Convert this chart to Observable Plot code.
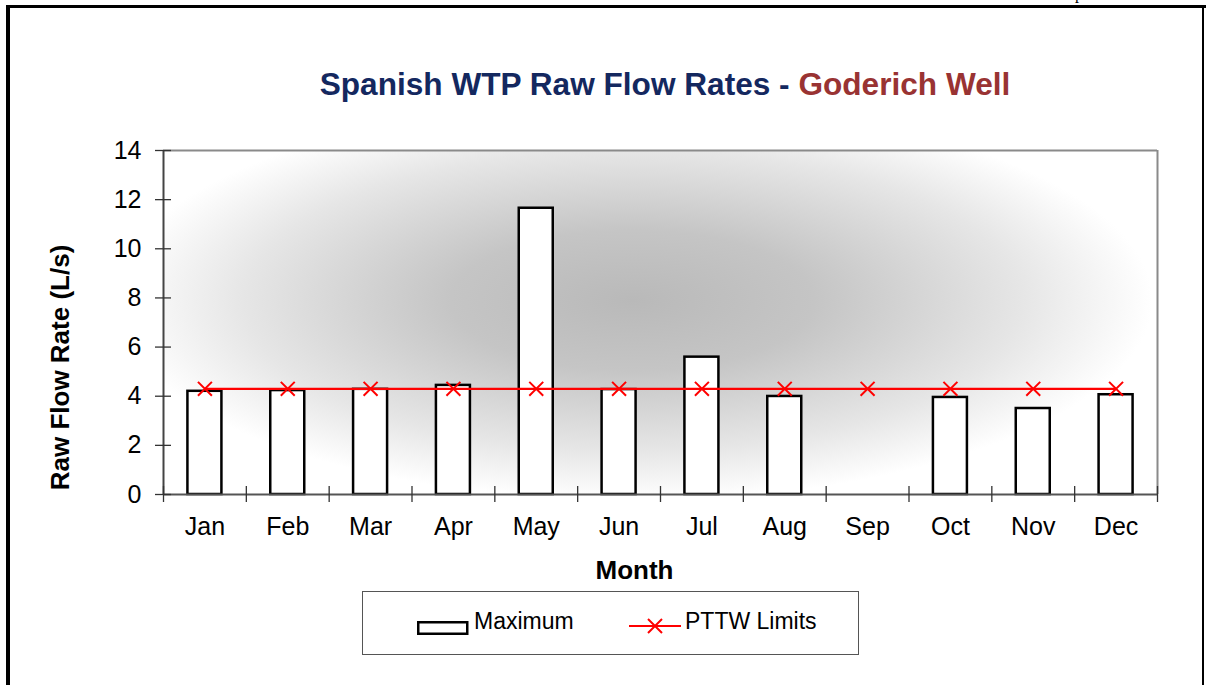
<!DOCTYPE html>
<html><head><meta charset="utf-8">
<script src="https://cdn.jsdelivr.net/npm/d3@7"></script>
<script src="https://cdn.jsdelivr.net/npm/@observablehq/plot@0.6"></script>
<style>
body{margin:0;background:#fff;font-family:"Liberation Sans",Arial,sans-serif;}
#page{position:relative;width:1206px;height:685px;overflow:hidden;background:#fff;}
.bline{position:absolute;background:#000;}
#title{position:absolute;left:665px;top:69px;transform:translateX(-50%);white-space:nowrap;font-size:31.6px;line-height:31px;font-weight:bold;}
#chart{position:absolute;left:0;top:100px;}
#legend{position:absolute;left:362px;top:591px;width:495px;height:62px;border:1px solid #555;background:#fff;}
.lg{position:absolute;white-space:nowrap;font-size:23px;line-height:23px;color:#000;}
#pfrag{position:absolute;left:1075px;top:-15px;font-family:"Liberation Serif",serif;font-size:16px;}
</style></head><body>
<div id="page">
  <div id="pfrag">p</div>
  <div class="bline" style="left:6px;top:5px;width:1200px;height:3px;"></div>
  <div class="bline" style="left:6px;top:5px;width:4px;height:680px;"></div>
  <div class="bline" style="left:1202px;top:5px;width:2px;height:680px;"></div>
  <div id="title"></div>
  <div id="chart"></div>
  <div id="legend"></div>
</div>
<script>
const months = ["Jan","Feb","Mar","Apr","May","Jun","Jul","Aug","Sep","Oct","Nov","Dec"];
const maximum = [4.20, 4.23, 4.28, 4.44, 11.65, 4.27, 5.59, 3.99, null, 3.95, 3.50, 4.06];
const pttwLimits = [4.3, 4.3, 4.3, 4.3, 4.3, 4.3, 4.3, 4.3, 4.3, 4.3, 4.3, 4.3];
const yTicks = [0, 2, 4, 6, 8, 10, 12, 14];
const seriesNames = ["Maximum", "PTTW Limits"];
const titleMain = "Spanish WTP Raw Flow Rates - ";
const titleSite = "Goderich Well";
const xTitle = "Month";
const yTitle = "Raw Flow Rate (L/s)";

const rows = months.map((m, i) => ({month: m, idx: i + 1, max: maximum[i], limit: pttwLimits[i]}));

// title
const t = document.getElementById("title");
const s1 = document.createElement("span"); s1.textContent = titleMain; s1.style.color = "#14285f";
const s2 = document.createElement("span"); s2.textContent = titleSite; s2.style.color = "#993333";
t.append(s1, s2);

const W = 1206, H = 490, mL = 163, mR = 49, mT = 50, mB = 96;
const plotW = W - mL - mR, plotH = H - mT - mB;
const step = plotW / months.length;
const barW = 34;
const inset = (step - barW) / 2;

const chart = Plot.plot({
  width: W, height: H,
  marginLeft: mL, marginRight: mR, marginTop: mT, marginBottom: mB,
  x: {domain: [0.5, months.length + 0.5]},
  y: {domain: [0, 14]},
  style: {background: "transparent", overflow: "visible", fontFamily: "'Liberation Sans', Arial, sans-serif", color: "#000"},
  marks: [
    Plot.frame({fill: "url(#bggrad)", stroke: "none"}),
    Plot.rectY(rows.filter(d => d.max != null), {x1: d => d.idx - 0.5, x2: d => d.idx + 0.5, y1: 0, y2: "max",
      insetLeft: inset, insetRight: inset, fill: "white", stroke: "#000", strokeWidth: 2.5}),
    Plot.ruleY([14], {stroke: "#8a8a8a", strokeWidth: 2}),
    Plot.ruleX([months.length + 0.5], {stroke: "#8a8a8a", strokeWidth: 2}),
    Plot.ruleY([0], {stroke: "#555", strokeWidth: 2}),
    Plot.ruleX([0.5], {stroke: "#444", strokeWidth: 2}),
    Plot.ruleY(yTicks, {insetLeft: -8, insetRight: plotW - 8, stroke: "#333", strokeWidth: 1.3}),
    Plot.ruleX(d3.range(0.5, months.length + 0.6, 1), {insetTop: plotH - 8, insetBottom: -8, stroke: "#333", strokeWidth: 1.3}),
    Plot.axisY(yTicks, {tickSize: 0, tickPadding: 22, fontSize: 25, label: null}),
    Plot.axisX(rows.map(d => d.idx), {tickSize: 0, tickPadding: 23, fontSize: 25, tickFormat: i => months[i - 1], label: null}),
    Plot.line(rows, {x: "idx", y: "limit", stroke: "#ff0000", strokeWidth: 2.2}),
    Plot.dot(rows, {x: "idx", y: "limit", symbol: "times", r: 6.4, stroke: "#ff0000", strokeWidth: 2}),
    Plot.text([xTitle], {frameAnchor: "bottom", lineAnchor: "middle", dy: 76, dx: -26, fontSize: 26, fontWeight: "bold"}),
    Plot.text([yTitle], {frameAnchor: "left", textAnchor: "middle", lineAnchor: "middle", rotate: -90, dx: -103, dy: 45, fontSize: 26, fontWeight: "bold"})
  ]
});

const defs = d3.select(chart).insert("defs", ":first-child");
const g = defs.append("radialGradient").attr("id", "bggrad")
  .attr("gradientUnits", "userSpaceOnUse")
  .attr("cx", 0).attr("cy", 0).attr("r", 1)
  .attr("gradientTransform", "translate(632 200) scale(520 200)");
[[0, "#b9b9b9"], [0.35, "#c5c5c5"], [0.75, "#e6e6e6"], [1, "#ffffff"]].forEach(([o, c]) =>
  g.append("stop").attr("offset", o).attr("stop-color", c));
document.getElementById("chart").appendChild(chart);

// legend
const lg = document.getElementById("legend");
function addAbs(html, left, top) {
  const d = document.createElement("div");
  d.className = "lg"; d.style.left = left + "px"; d.style.top = top + "px";
  d.innerHTML = html; lg.appendChild(d); return d;
}
addAbs('<svg width="52" height="14"><rect x="1.25" y="1.25" width="49" height="11.5" fill="white" stroke="black" stroke-width="2.5"/></svg>', 54, 24);
addAbs("", 111, 18).textContent = seriesNames[0];
addAbs('<svg width="52" height="16"><line x1="0" y1="8" x2="52" y2="8" stroke="#ff0000" stroke-width="2.2"/><path d="M19,1 L33,15 M33,1 L19,15" stroke="#ff0000" stroke-width="2"/></svg>', 266, 23);
addAbs("", 322, 18).textContent = seriesNames[1];
</script>
</body></html>
